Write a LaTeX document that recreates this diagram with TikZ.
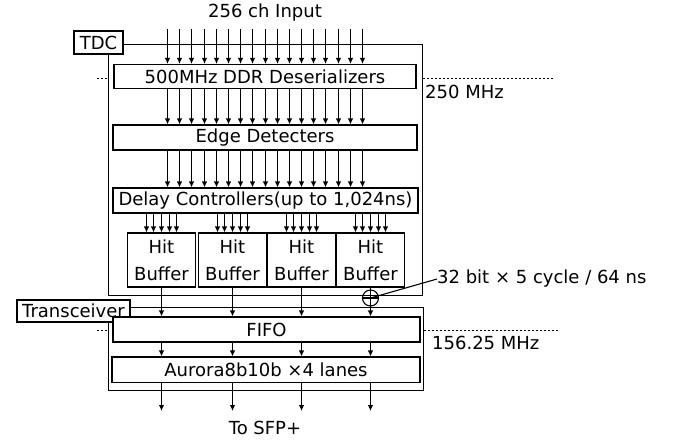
\documentclass[tikz,border=0pt]{standalone}
\usepackage{fontspec}
\setmainfont{DejaVu Sans}
\usetikzlibrary{arrows.meta,calc}
\begin{document}
\begin{tikzpicture}[x=1pt,y=-1pt,
  every node/.style={font=\fontsize{18}{20}\selectfont},
  box/.style={draw,line width=1.1pt,rectangle,inner sep=0pt,fill=white},
  frame/.style={draw,line width=1.1pt},
  arr/.style={line width=1.1pt,-{Latex[length=6pt,width=5.5pt]}},
  wire/.style={line width=1.1pt},
  dots/.style={line width=1.1pt,dash pattern=on 2pt off 2pt},
  lbl/.style={inner sep=0pt}]
\useasboundingbox (0,0) rectangle (680,440);

% frames first
\node[box,minimum width=49pt,minimum height=23pt] (tdc) at (98.5,42.5) {TDC};
\node[box,minimum width=113pt,minimum height=22pt] (trx) at (73.5,311) {Transceiver};
\coordinate (tdcTR) at (422.5,44.5);
\coordinate (tdcBL) at (108.5,295.5);
\draw[frame] (tdc.east |- tdcTR) -- (tdcTR) -- (tdcTR |- tdcBL) -- (tdcBL) -- (tdcBL |- tdc.south);
\coordinate (trxTR) at (423.5,307.5);
\coordinate (trxBL) at (108.5,390.5);
\draw[frame] (trx.east |- trxTR) -- (trxTR) -- (trxTR |- trxBL) -- (trxBL) -- (trxBL |- trx.south);

% dotted clock-domain lines
\coordinate (d1a) at (97,78.5);
\coordinate (d1b) at (553,78.5);
\draw[dots] (d1a) -- (d1a -| tdcBL);
\draw[dots] (d1b -| tdcTR) -- (d1b);
\coordinate (d2a) at (97,330.5);
\coordinate (d2b) at (559,330.5);
\draw[dots] (d2a) -- (d2a -| trxBL);
\draw[dots] (d2b -| trxTR) -- (d2b);

% blocks
\node[box,minimum width=302pt,minimum height=24pt] (des) at (265,76.5) {500MHz DDR Deserializers};
\node[box,minimum width=304pt,minimum height=25pt] (edge) at (265,137.5) {Edge Detecters};
\node[box,minimum width=305pt,minimum height=25pt] (dly) at (265.5,200.5) {Delay Controllers(up to 1,024ns)};
\foreach \k/\cx in {1/161.5,2/232.5,3/301.5,4/370.5}{
  \node[box,minimum width=68pt,minimum height=54pt,align=center,font=\fontsize{18}{27}\selectfont] (hb\k) at (\cx,260) {Hit\\Buffer};
}
\node[box,minimum width=307pt,minimum height=25pt] (fifo) at (266.5,329.5) {FIFO};
\node[box,minimum width=308pt,minimum height=25.5pt] (aur) at (266,369.75) {Aurora8b10b ×4 lanes};

% texts
\node (inp) at (265,13) {256 ch Input};
\node (sfp) at (265,428) {To SFP+};
\node[lbl,anchor=west] (f250) at (425,92) {250 MHz};
\node[lbl,anchor=west] (f156) at (432,343) {156.25 MHz};
\node[lbl,anchor=west] (bw) at (437,279) {32 bit × 5 cycle / 64 ns};

% 17 data lines
\foreach \i in {0,...,16}{
  \pgfmathsetmacro\xx{round(167+\i*12.19)+0.5}
  \coordinate (in\i) at (\xx,29);
  \draw[arr] (in\i) -- (in\i |- des.north);
  \draw[arr] (in\i |- des.south) -- (in\i |- edge.north);
  \draw[arr] (in\i |- edge.south) -- (in\i |- dly.north);
}
% groups of 5 to hit buffers
\foreach \k in {1,...,4}{
  \foreach \j in {-2,...,2}{
    \pgfmathsetmacro\dx{round(\j*7.5)}
    \coordinate (g\k\j) at ($(hb\k.north)+(\dx,0)$);
    \draw[arr] (g\k\j |- dly.south) -- (g\k\j);
  }
  \draw[arr] (hb\k.south) -- (hb\k.south |- fifo.north);
  \draw[arr] (hb\k.south |- fifo.south) -- (hb\k.south |- aur.north);
  \coordinate (out\k) at (hb\k.south |- 0,411);
  \draw[arr] (hb\k.south |- aur.south) -- (out\k);
}

% xor mark
\node[circle,draw,line width=1.1pt,minimum size=16pt,inner sep=0pt] (xor) at (370.5,298) {};
\draw[wire] (xor.west) -- (xor.east);
\draw[wire] (xor.center) -- (bw.west);
\end{tikzpicture}
\end{document}
